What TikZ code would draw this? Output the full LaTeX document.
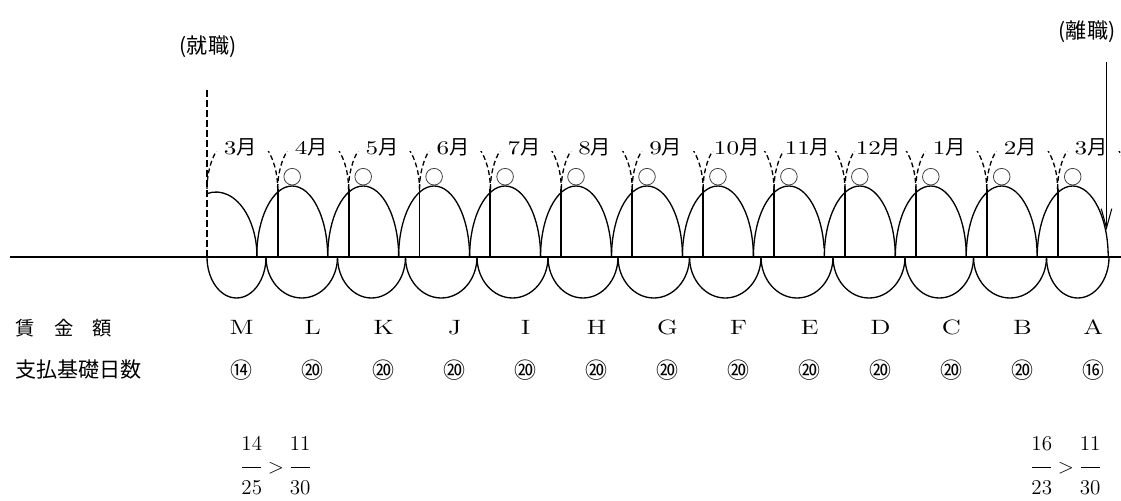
\documentclass[tikz,border=0pt]{standalone}
\usepackage{fontspec}
\newfontfamily\cjk{Noto Sans CJK JP}
\newfontfamily\wide{Latin Modern Roman}[FakeStretch=1.3]
\usepackage{tikz}
\usetikzlibrary{arrows.meta}
\newcommand{\tsuki}[1]{{\wide\fontsize{11}{13}\selectfont #1}{\cjk\fontsize{11.5}{13}\selectfont 月}}

\begin{document}
\begin{tikzpicture}[line cap=butt,line join=round,x=0.02cm,y=0.02cm,
  arch/.style={line width=0.75pt},
  paybar/.style={line width=1.1pt},
  dsh/.style={line width=0.75pt,dash pattern=on 2.8pt off 1.7pt},
  mon/.style={anchor=base,inner sep=0pt},
  wage/.style={font=\wide\fontsize{11.8}{13}\selectfont,anchor=base,inner sep=0pt},
  days/.style={font=\cjk\fontsize{12.5}{14}\selectfont,inner sep=0pt},
  ok/.style={line width=0.45pt,black!75}]

\useasboundingbox (0,0) rectangle (1121,500);

\node[font=\cjk\fontsize{12}{14}\selectfont,inner sep=0pt] (hire) at (208,453) {(就職)};
\node[font=\cjk\fontsize{12}{14}\selectfont,inner sep=0pt] (quit) at (1087,468) {(離職)};

\coordinate (hireTop) at (207,412);
\coordinate (hireBot) at (207,243);
\coordinate (quitTop) at (1106.5,438);
\coordinate (quitBot) at (1106.5,270);

\draw [line width=1.1pt] (10,243)-- (1121,243);
\draw [line width=1.1pt,dash pattern=on 3.8pt off 1.9pt] (hireBot)-- (hireTop);
\draw [line width=0.6pt,-{Straight Barb[length=11pt,width=6pt]}] (quitTop)-- (quitBot);

\draw [arch] (207,306.4) arc[start angle=102.7,end angle=0,x radius=41,y radius=65];
\draw [arch] (256.7,243) arc[start angle=180,end angle=0,x radius=35.5,y radius=71];
\draw [arch] (327.7,243) arc[start angle=180,end angle=0,x radius=35.5,y radius=71];
\draw [arch] (398.6,243) arc[start angle=180,end angle=0,x radius=35.5,y radius=71];
\draw [arch] (469.6,243) arc[start angle=180,end angle=0,x radius=35.5,y radius=71];
\draw [arch] (540.5,243) arc[start angle=180,end angle=0,x radius=35.5,y radius=71];
\draw [arch] (611.5,243) arc[start angle=180,end angle=0,x radius=35.5,y radius=71];
\draw [arch] (682.4,243) arc[start angle=180,end angle=0,x radius=35.5,y radius=71];
\draw [arch] (753.4,243) arc[start angle=180,end angle=7,x radius=35.5,y radius=71];
\draw [arch] (824.3,243) arc[start angle=180,end angle=0,x radius=35.5,y radius=71];
\draw [arch] (895.3,243) arc[start angle=180,end angle=0,x radius=35.5,y radius=71];
\draw [arch] (966.2,243) arc[start angle=180,end angle=0,x radius=35.5,y radius=71];
\draw [arch] (1037.2,243) arc[start angle=180,end angle=0,x radius=35.5,y radius=71];

\draw [arch] (207,243) arc[start angle=180,end angle=360,x radius=29.5,y radius=41];
\draw [arch] (266,243) arc[start angle=180,end angle=360,x radius=35.75,y radius=41];
\draw [arch] (337.5,243) arc[start angle=180,end angle=360,x radius=34,y radius=41];
\draw [arch] (405.5,243) arc[start angle=180,end angle=360,x radius=35.75,y radius=41];
\draw [arch] (477,243) arc[start angle=180,end angle=360,x radius=35.5,y radius=41];
\draw [arch] (548,243) arc[start angle=180,end angle=360,x radius=35,y radius=41];
\draw [arch] (618,243) arc[start angle=180,end angle=360,x radius=35.75,y radius=41];
\draw [arch] (689.5,243) arc[start angle=180,end angle=360,x radius=35.75,y radius=41];
\draw [arch] (761,243) arc[start angle=180,end angle=360,x radius=36,y radius=41];
\draw [arch] (833,243) arc[start angle=180,end angle=360,x radius=36,y radius=41];
\draw [arch] (905,243) arc[start angle=180,end angle=360,x radius=34.25,y radius=41];
\draw [arch] (973.5,243) arc[start angle=180,end angle=360,x radius=36.5,y radius=41];
\draw [arch] (1046.5,243) arc[start angle=180,end angle=360,x radius=31.25,y radius=41];

\draw [paybar] (277.7,243)-- (277.7,311);
\draw [paybar] (348.6,243)-- (348.6,311);
\draw [paybar] (419.5,243)-- (419.5,311);
\draw [paybar] (490.4,243)-- (490.4,311);
\draw [paybar] (561.3,243)-- (561.3,311);
\draw [paybar] (632.2,243)-- (632.2,311);
\draw [paybar] (703.1,243)-- (703.1,311);
\draw [paybar] (774.0,243)-- (774.0,311);
\draw [paybar] (844.9,243)-- (844.9,311);
\draw [paybar] (915.8,243)-- (915.8,311);
\draw [paybar] (986.7,243)-- (986.7,311);
\draw [paybar] (1057.6,243)-- (1057.6,311);

\begin{scope}
\clip (0,0) rectangle (1121,348);
\draw [dsh] (207,311) arc[start angle=180,end angle=0,x radius=35.35,y radius=56];
\draw [dsh] (277.7,311) arc[start angle=180,end angle=0,x radius=35.45,y radius=56];
\draw [dsh] (348.6,311) arc[start angle=180,end angle=0,x radius=35.45,y radius=56];
\draw [dsh] (419.5,311) arc[start angle=180,end angle=0,x radius=35.45,y radius=56];
\draw [dsh] (490.4,311) arc[start angle=180,end angle=0,x radius=35.45,y radius=56];
\draw [dsh] (561.3,311) arc[start angle=180,end angle=0,x radius=35.45,y radius=56];
\draw [dsh] (632.2,311) arc[start angle=180,end angle=0,x radius=35.45,y radius=56];
\draw [dsh] (703.1,311) arc[start angle=180,end angle=0,x radius=35.45,y radius=56];
\draw [dsh] (774.0,311) arc[start angle=180,end angle=0,x radius=35.45,y radius=56];
\draw [dsh] (844.9,311) arc[start angle=180,end angle=0,x radius=35.45,y radius=56];
\draw [dsh] (915.8,311) arc[start angle=180,end angle=0,x radius=35.45,y radius=56];
\draw [dsh] (986.7,311) arc[start angle=180,end angle=0,x radius=35.45,y radius=56];
\draw [dsh] (1057.6,311) arc[start angle=180,end angle=0,x radius=35.45,y radius=56];
\end{scope}

\draw [ok] (292.2,323.3) circle (8.3);
\draw [ok] (363.2,323.3) circle (8.3);
\draw [ok] (434.1,323.3) circle (8.3);
\draw [ok] (505.1,323.3) circle (8.3);
\draw [ok] (576.0,323.3) circle (8.3);
\draw [ok] (647.0,323.3) circle (8.3);
\draw [ok] (717.9,323.3) circle (8.3);
\draw [ok] (788.9,323.3) circle (8.3);
\draw [ok] (859.8,323.3) circle (8.3);
\draw [ok] (930.8,323.3) circle (8.3);
\draw [ok] (1001.7,323.3) circle (8.3);
\draw [ok] (1072.7,323.3) circle (8.3);

\node[mon] (m3a) at (240.3,345) {\tsuki{3}};
\node[mon] (m4) at (311.2,345) {\tsuki{4}};
\node[mon] (m5) at (382.1,345) {\tsuki{5}};
\node[mon] (m6) at (453.0,345) {\tsuki{6}};
\node[mon] (m7) at (523.9,345) {\tsuki{7}};
\node[mon] (m8) at (594.8,345) {\tsuki{8}};
\node[mon] (m9) at (665.7,345) {\tsuki{9}};
\node[mon] (m10) at (736.6,345) {\tsuki{10}};
\node[mon] (m11) at (807.5,345) {\tsuki{11}};
\node[mon] (m12) at (878.4,345) {\tsuki{12}};
\node[mon] (m1) at (949.3,345) {\tsuki{1}};
\node[mon] (m2) at (1020.2,345) {\tsuki{2}};
\node[mon] (m3b) at (1091.1,345) {\tsuki{3}};

\node[font=\cjk\fontsize{11}{13}\selectfont,anchor=west,inner sep=0pt] (wageHead) at (15,172) {賃　金　額};
\node[font=\cjk\fontsize{12}{14}\selectfont,anchor=west,inner sep=0pt] (daysHead) at (15,130) {支払基礎日数};

\node[wage] (wM) at (241.7,165) {M};
\node[wage] (wL) at (312.7,165) {L};
\node[wage] (wK) at (383.6,165) {K};
\node[wage] (wJ) at (454.6,165) {J};
\node[wage] (wI) at (525.6,165) {I};
\node[wage] (wH) at (596.6,165) {H};
\node[wage] (wG) at (667.5,165) {G};
\node[wage] (wF) at (738.5,165) {F};
\node[wage] (wE) at (809.5,165) {E};
\node[wage] (wD) at (880.4,165) {D};
\node[wage] (wC) at (951.4,165) {C};
\node[wage] (wB) at (1022.4,165) {B};
\node[wage] (wA) at (1093.3,165) {A};

\node[days] (dM) at (241.7,130) {⑭};
\node[days] (dL) at (312.7,130) {⑳};
\node[days] (dK) at (383.6,130) {⑳};
\node[days] (dJ) at (454.6,130) {⑳};
\node[days] (dI) at (525.6,130) {⑳};
\node[days] (dH) at (596.6,130) {⑳};
\node[days] (dG) at (667.5,130) {⑳};
\node[days] (dF) at (738.5,130) {⑳};
\node[days] (dE) at (809.5,130) {⑳};
\node[days] (dD) at (880.4,130) {⑳};
\node[days] (dC) at (951.4,130) {⑳};
\node[days] (dB) at (1022.4,130) {⑳};
\node[days] (dA) at (1093.3,130) {⑯};

\node[font=\fontsize{12}{12.5}\selectfont,inner sep=0pt] (ratioM) at (276,32)
  {$\begin{array}{@{}c@{}}14\\\rule[2.7pt]{11pt}{0.5pt}\\25\end{array}>\begin{array}{@{}c@{}}11\\\rule[2.7pt]{11pt}{0.5pt}\\30\end{array}$};
\node[font=\fontsize{12}{12.5}\selectfont,inner sep=0pt] (ratioA) at (1066,32)
  {$\begin{array}{@{}c@{}}16\\\rule[2.7pt]{11pt}{0.5pt}\\23\end{array}>\begin{array}{@{}c@{}}11\\\rule[2.7pt]{11pt}{0.5pt}\\30\end{array}$};
\end{tikzpicture}
\end{document}
